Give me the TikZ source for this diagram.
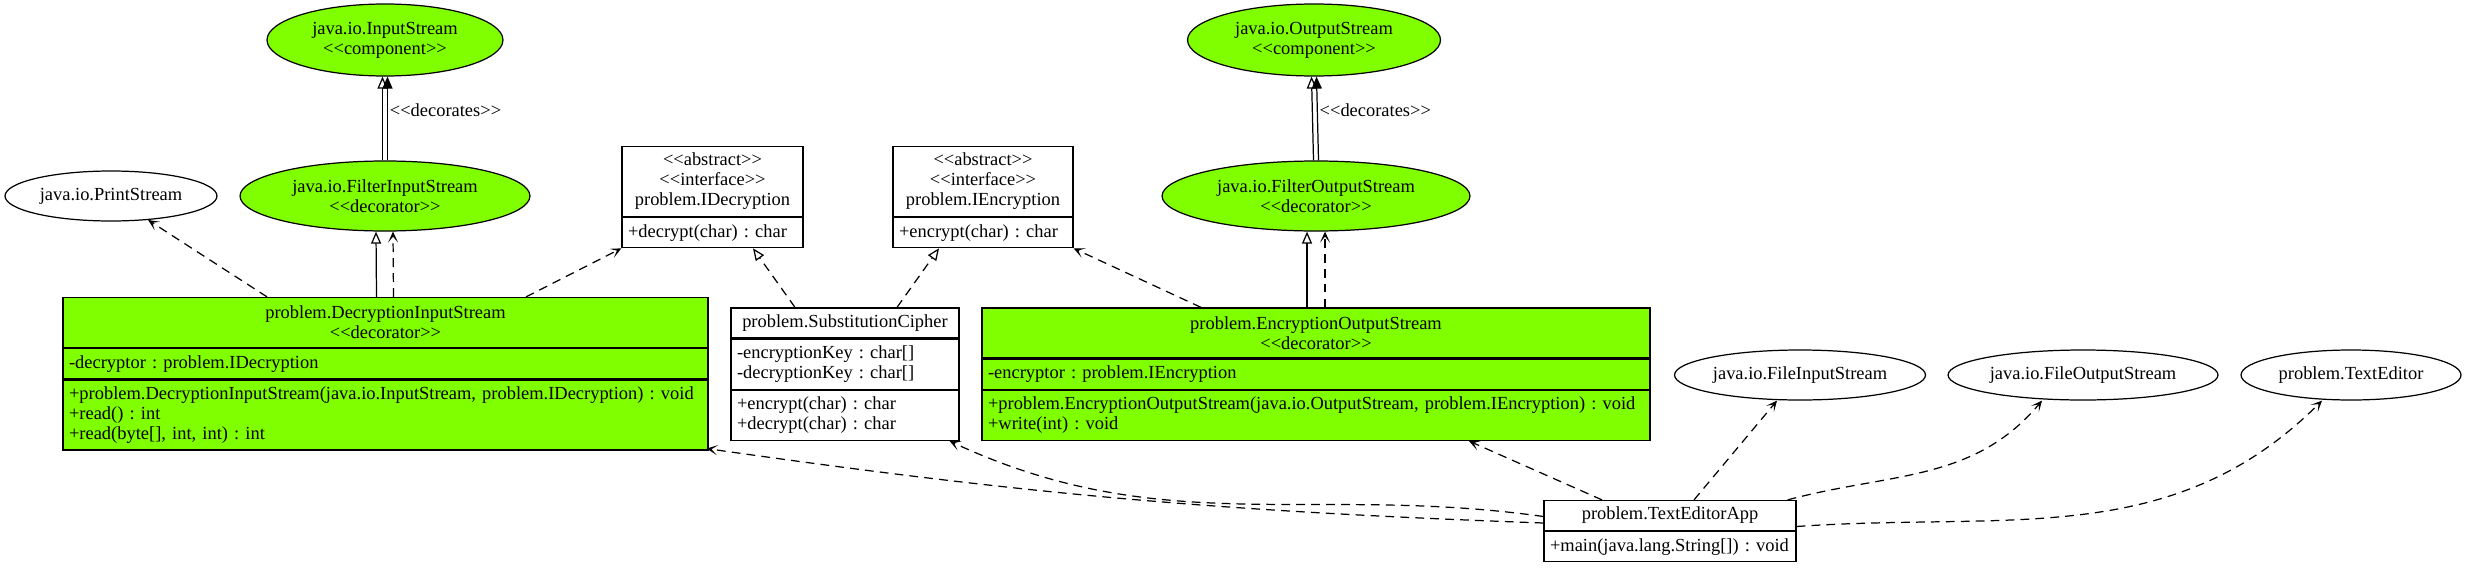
\documentclass[tikz,border=0pt]{standalone}
\usepackage{fontspec}
\setmainfont{Liberation Serif}
\usetikzlibrary{arrows.meta,positioning,shapes.geometric}

\definecolor{chartreuse}{HTML}{7FFF00}
\newcommand{\umlfont}{\frenchspacing\fontsize{10.5}{11.34}\selectfont}
\newcommand{\stereo}[1]{<{}<#1>{}>}

\begin{document}
\begin{tikzpicture}[x=0.02cm, y=0.02cm,
  % Node styles
  comp/.style={ellipse, draw, line width=0.7pt, fill=chartreuse, inner sep=0pt,
               font=\umlfont, align=center, minimum height=1.44cm},
  ext/.style={ellipse, draw, line width=0.7pt, fill=white, inner sep=0pt,
              font=\umlfont, minimum height=1cm},
  hdr/.style={draw, line width=0.7pt, fill=white, inner xsep=0.12cm, inner ysep=2pt,
              font=\umlfont, align=center},
  sect/.style={hdr, align=left},
  ghdr/.style={hdr, fill=chartreuse},
  gsect/.style={sect, fill=chartreuse},
  % Arrow styles
  inh/.style={line width=0.7pt, -{Triangle[open, length=0.24cm, width=0.2cm]}},
  real/.style={inh, dash pattern=on 5pt off 3.5pt},
  dep/.style={line width=0.7pt, dash pattern=on 5pt off 3.5pt,
              -{Stealth[length=0.22cm, width=0.2cm, inset=0.12cm]}},
  assoc/.style={line width=0.7pt, -{Triangle[length=0.24cm, width=0.2cm]}},
  % Label style
  lbl/.style={font=\umlfont, inner sep=1pt},
]
\useasboundingbox (0,0) rectangle (2466,-568);

% === Library streams ===
\node[comp, minimum width=4.72cm] (inStream) at (385,-40) {java.io.InputStream\\\stereo{component}};
\node[comp, minimum width=5.8cm, minimum height=1.4cm] (filterIn) at (385,-196) {java.io.FilterInputStream\\\stereo{decorator}};
\node[ext, minimum width=4.24cm] (printStream) at (111,-196) {java.io.PrintStream};
\node[comp, minimum width=5.06cm] (outStream) at (1314,-40) {java.io.OutputStream\\\stereo{component}};
\node[comp, minimum width=6.16cm, minimum height=1.4cm] (filterOut) at (1316,-196) {java.io.FilterOutputStream\\\stereo{decorator}};
\node[ext, minimum width=5.02cm] (fileIn) at (1800,-375) {java.io.FileInputStream};
\node[ext, minimum width=5.4cm] (fileOut) at (2083,-375) {java.io.FileOutputStream};
\node[ext, minimum width=4.4cm] (textEditor) at (2351,-375) {problem.TextEditor};

% === Interfaces ===
\node[hdr, text width=3.38cm, minimum height=1.4cm] (iDecH) at (712.5,-181.5)
  {\stereo{abstract}\\\stereo{interface}\\problem.IDecryption};
\node[sect, text width=3.38cm, minimum height=0.6cm, below=0pt of iDecH] (iDecM) {+decrypt(char) : char};

\node[hdr, text width=3.36cm, minimum height=1.4cm] (iEncH) at (983,-181.5)
  {\stereo{abstract}\\\stereo{interface}\\problem.IEncryption};
\node[sect, text width=3.36cm, minimum height=0.6cm, below=0pt of iEncH] (iEncM) {+encrypt(char) : char};

% === Decorators ===
\node[ghdr, text width=12.66cm, minimum height=1cm] (decInH) at (385.5,-322.5)
  {problem.DecryptionInputStream\\\stereo{decorator}};
\node[gsect, text width=12.66cm, minimum height=0.6cm, below=0pt of decInH] (decInA) {-decryptor : problem.IDecryption};
\node[gsect, text width=12.66cm, minimum height=1.4cm, below=0pt of decInA] (decInM)
  {+problem.DecryptionInputStream(java.io.InputStream, problem.IDecryption) : void\\+read() : int\\+read(byte[], int, int) : int};

\node[ghdr, text width=13.12cm, minimum height=1cm] (encOutH) at (1316,-333)
  {problem.EncryptionOutputStream\\\stereo{decorator}};
\node[gsect, text width=13.12cm, minimum height=0.6cm, below=0pt of encOutH] (encOutA) {-encryptor : problem.IEncryption};
\node[gsect, text width=13.12cm, minimum height=1cm, below=0pt of encOutA] (encOutM)
  {+problem.EncryptionOutputStream(java.io.OutputStream, problem.IEncryption) : void\\+write(int) : void};

% === Cipher and app ===
\node[hdr, text width=4.32cm, minimum height=0.6cm] (subCipherH) at (845,-323) {problem.SubstitutionCipher};
\node[sect, text width=4.32cm, minimum height=1cm, below=0pt of subCipherH] (subCipherA) {-encryptionKey : char[]\\-decryptionKey : char[]};
\node[sect, text width=4.32cm, minimum height=1cm, below=0pt of subCipherA] (subCipherM) {+encrypt(char) : char\\+decrypt(char) : char};

\node[hdr, text width=4.8cm, minimum height=0.6cm] (appH) at (1670,-515.5) {problem.TextEditorApp};
\node[sect, text width=4.8cm, minimum height=0.6cm, below=0pt of appH] (appM) {+main(java.lang.String[]) : void};

% === Input side ===
\draw[inh]   ([xshift=-0.05cm]filterIn.north) -- ([xshift=-0.05cm]inStream.south);
\draw[assoc] ([xshift=0.05cm]filterIn.north) -- node[lbl, right, pos=0.6] {\stereo{decorates}} ([xshift=0.05cm]inStream.south);
\draw[inh]   ([xshift=-0.18cm]decInH.north) -- ([xshift=-0.18cm]filterIn.south);
\draw[dep]   ([xshift=0.16cm]decInH.north) -- ([xshift=0.16cm]filterIn.south);
\draw[dep]   ([xshift=-2.37cm]decInH.north) -- (printStream);
\draw[dep]   ([xshift=2.81cm]decInH.north) -- (iDecM.south west);

% === Cipher realizes both interfaces ===
\draw[real] ([xshift=-1cm]subCipherH.north) -- ([xshift=0.81cm]iDecM.south);
\draw[real] ([xshift=1.04cm]subCipherH.north) -- ([xshift=-0.88cm]iEncM.south);

% === Output side ===
\draw[dep]   ([xshift=-2.3cm]encOutH.north) -- (iEncM.south east);
\draw[inh]   ([xshift=-0.18cm]encOutH.north) -- ([xshift=-0.18cm]filterOut.south);
\draw[dep]   ([xshift=0.18cm]encOutH.north) -- ([xshift=0.18cm]filterOut.south);
\draw[inh]   ([xshift=-0.05cm]filterOut.north) -- ([xshift=-0.05cm]outStream.south);
\draw[assoc] ([xshift=0.05cm]filterOut.north) -- node[lbl, right, pos=0.6] {\stereo{decorates}} ([xshift=0.05cm]outStream.south);

% === TextEditorApp uses ===
\draw[dep] ([xshift=-1.36cm]appH.north) -- ([xshift=3.06cm]encOutM.south);
\draw[dep] ([xshift=0.48cm]appH.north) -- ([xshift=-0.46cm]fileIn.south);
\draw[dep] ([xshift=-0.18cm]appH.north east) to[out=15, in=230] ([xshift=-0.82cm]fileOut.south);
\draw[dep] ([yshift=-0.22cm]appH.east) to[out=4, in=225] ([xshift=-0.58cm]textEditor.south);
\draw[dep] ([yshift=-0.15cm]appH.west) to[bend left=3] ([shift={(-0.04cm,0.04cm)}]decInM.south east);
\draw[dep] ([yshift=-0.02cm]appH.west) to[out=172, in=-25] ([xshift=-0.2cm]subCipherM.south east);

\end{tikzpicture}
\end{document}
